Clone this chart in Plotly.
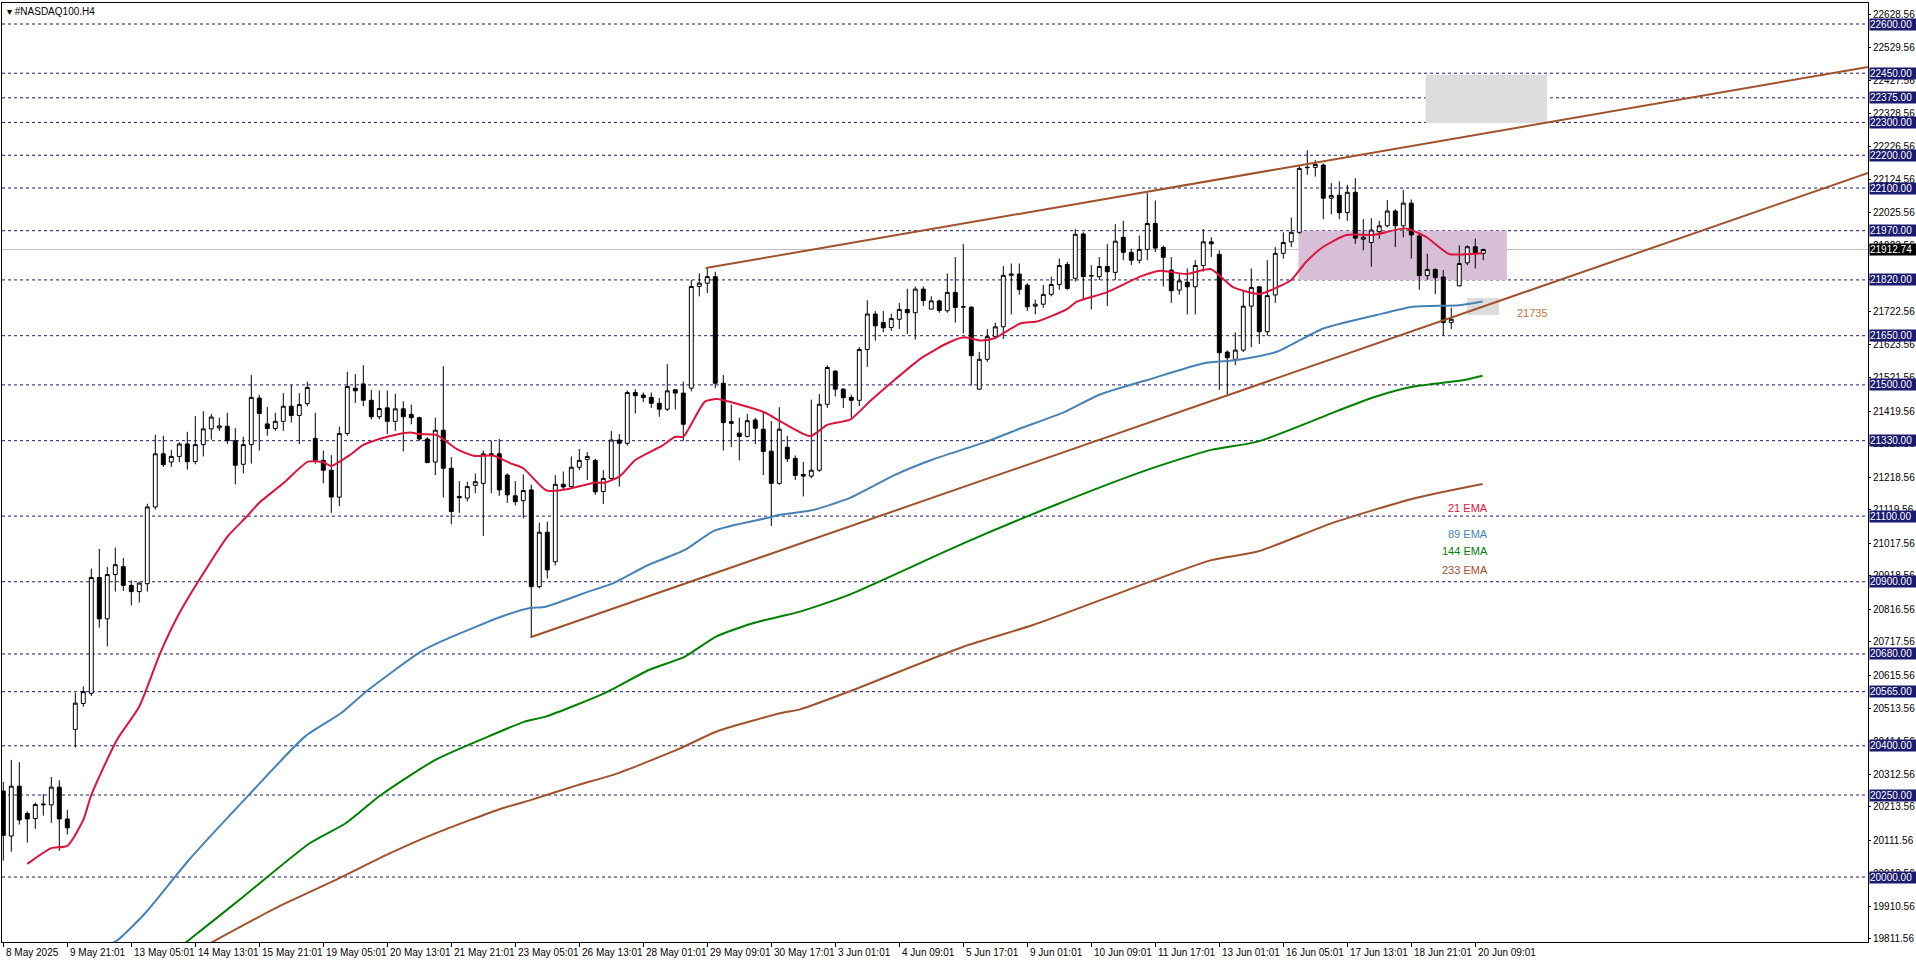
import plotly.graph_objects as go

# ---- candle data (H4 bars, index 0 = 8 May 2025) ----
opens = [20262,20125,20277,20194,20178,20220,20220,20274,20177,20450,20529,20560,20913,20787,20922,20946,20889,20870,20894,21128,
21290,21265,21282,21320,21266,21318,21366,21369,21374,21330,21258,21318,21460,21381,21367,21389,21435,21407,21443,21337,
21270,21240,21158,21352,21490,21503,21453,21403,21430,21389,21427,21410,21400,21335,21265,21362,21246,21160,21155,21194,
21200,21290,21290,21225,21162,21147,21180,20885,21051,20961,21197,21190,21249,21273,21270,21175,21215,21332,21322,21477,
21469,21462,21444,21426,21485,21475,21490,21800,21810,21830,21505,21388,21353,21343,21393,21365,21298,21200,21310,21276,
21227,21222,21240,21441,21542,21487,21462,21453,21608,21716,21690,21675,21700,21730,21720,21792,21731,21756,21726,21782,
21737,21737,21487,21578,21648,21677,21834,21838,21804,21740,21746,21776,21806,21867,21825,21960,21832,21830,21861,21843,
21950,21904,21880,21913,21992,21919,21850,21789,21813,21799,21864,21936,21898,21600,21578,21606,21740,21799,21662,21774,
21901,21936,21965,22162,22163,22170,22069,22078,22025,22087,21944,21934,21967,21985,22030,21985,22054,21954,21833,21852,
21829,21690,21802,21872,21921,21901]
highs = [20290,20357,20350,20200,20227,20253,20305,20295,20205,20562,20581,20940,21000,20945,21004,20973,20904,20900,21138,21348,
21345,21302,21325,21357,21405,21420,21412,21400,21415,21368,21342,21530,21470,21433,21415,21475,21500,21475,21510,21415,
21300,21286,21373,21540,21533,21560,21485,21483,21483,21473,21450,21440,21403,21340,21400,21557,21280,21207,21205,21230,
21300,21330,21335,21230,21207,21227,21196,21080,21083,21225,21236,21282,21305,21295,21275,21240,21360,21350,21483,21487,
21477,21477,21460,21563,21487,21510,21820,21840,21856,21845,21530,21440,21400,21412,21400,21420,21390,21432,21345,21285,
21265,21455,21472,21560,21545,21490,21470,21615,21758,21725,21725,21717,21750,21793,21800,21800,21770,21760,21840,21890,
21929,21740,21600,21670,21690,21862,21870,21870,21810,21760,21805,21830,21885,21875,21975,21965,21865,21890,21930,21990,
22000,21915,21955,22085,22062,21925,21890,21840,21855,21880,21975,21950,21910,21605,21660,21785,21855,21800,21880,21920,
21965,22010,22170,22215,22185,22175,22115,22120,22110,22130,22005,22008,22000,22063,22035,22095,22065,21960,21900,21855,
21850,21735,21925,21925,21946,21915]
lows = [20050,20077,20160,20105,20147,20187,20165,20080,20130,20395,20519,20552,20760,20703,20870,20872,20828,20837,20870,21120,
21250,21250,21265,21242,21258,21282,21333,21360,21320,21197,21230,21260,21300,21345,21360,21360,21385,21320,21435,21260,
21200,21110,21130,21345,21445,21435,21395,21395,21350,21360,21297,21380,21330,21262,21225,21157,21075,21110,21145,21170,
21040,21170,21162,21140,21133,21093,20731,20880,20910,20950,21180,21185,21240,21210,21165,21137,21210,21190,21315,21413,
21447,21430,21403,21420,21425,21330,21480,21770,21780,21490,21300,21310,21270,21340,21320,21225,21070,21195,21265,21210,
21160,21215,21235,21430,21465,21430,21400,21435,21555,21635,21660,21665,21670,21655,21638,21740,21730,21720,21720,21690,
21657,21498,21485,21570,21640,21640,21715,21775,21725,21715,21735,21770,21790,21790,21815,21760,21730,21820,21740,21820,
21880,21865,21870,21880,21905,21800,21750,21775,21715,21715,21845,21890,21485,21470,21560,21600,21615,21625,21650,21750,
21885,21920,21960,22140,22135,22005,22020,22005,22000,21930,21910,21860,21945,21980,21920,21950,21885,21790,21820,21777,
21650,21670,21800,21865,21855,21880]
closes = [20127,20277,20174,20177,20221,20222,20274,20177,20150,20530,20565,20913,20787,20922,20952,20889,20870,20896,21128,21290,
21257,21282,21320,21266,21318,21366,21402,21375,21330,21255,21318,21462,21413,21367,21389,21435,21407,21440,21492,21270,
21240,21158,21352,21495,21482,21453,21403,21428,21389,21427,21403,21400,21335,21263,21362,21246,21114,21156,21190,21205,
21290,21287,21180,21165,21144,21178,20885,21051,20936,21197,21189,21249,21270,21282,21174,21215,21332,21322,21477,21467,
21461,21444,21426,21482,21475,21380,21800,21810,21830,21505,21385,21383,21343,21391,21368,21297,21200,21365,21275,21224,
21222,21240,21441,21553,21487,21461,21453,21608,21716,21680,21674,21702,21730,21720,21792,21757,21756,21727,21782,21736,
21738,21589,21578,21647,21677,21834,21838,21791,21738,21746,21776,21806,21864,21794,21959,21830,21833,21861,21845,21938,
21904,21880,21913,21992,21917,21889,21787,21817,21799,21864,21936,21930,21598,21583,21606,21740,21797,21662,21772,21901,
21934,21965,22160,22163,22172,22069,22077,22025,22087,21947,21950,21972,21985,22030,21985,22054,21957,21833,21852,21827,
21690,21700,21870,21921,21903,21912.74]

# ---- EMA readings (bar index, price) ----
ema21_x = [3,3.8,6,8,10,11,14.2,17,19.6,22,24.6,28,30.4,32,35,38.1,40,41,43.3,45,47.1,49.2,50.8,52.1,54.2,56.7,58.8,61.3,63.4,
           65,67.9,70.4,73.9,75.2,77.1,79,82.3,84,85,87.7,89.2,91.9,95.2,97.2,100.9,103,105.9,108.5,111.4,114.7,118,120.1,122.2,
           123.9,127.2,129.2,132.9,134.2,137.9,142.1,144.6,147.9,150.9,153.8,157.1,159.2,161,162.9,165,167.9,171.2,175.3,177.8,
           180.7,182.8,184.9]
ema21_y = [20040,20054,20088,20095,20174,20250,20418,20520,20682,20804,20910,21037,21098,21141,21200,21266,21264,21253,21286,
           21317,21336,21349,21355,21350,21347,21304,21284,21284,21261,21246,21178,21182,21202,21202,21222,21271,21314,21342,
           21342,21449,21457,21441,21416,21388,21344,21378,21395,21454,21515,21581,21627,21645,21635,21642,21688,21693,21730,
           21754,21782,21830,21848,21838,21853,21797,21777,21797,21820,21876,21921,21957,21957,21977,21952,21899,21898,21901]
ema89_x = [13,14.3,17.7,23.2,30.5,37.7,42.2,45.6,52.2,55.1,62.3,65.7,67.8,73.5,76.2,80.6,85.2,88.9,95.2,97.1,100.9,105.7,
           111.4,116,122.9,127.2,132.7,137,143,150.1,154.2,159.2,165,172.5,176.2,182,184.9]
ema89_y = [19790,19808,19889,20052,20245,20428,20499,20570,20687,20722,20794,20819,20824,20873,20895,20951,20997,21056,21093,
           21104,21117,21154,21225,21271,21327,21368,21418,21470,21515,21566,21576,21601,21672,21718,21738,21743,21754]
ema144_x = [22.5,23.2,30,38.3,42.8,47.2,54,60.6,65.1,67.8,75.1,80.7,85.2,89.1,93.6,97.1,99.6,105.7,120,131.5,143,151,156.8,
            166,167.2,171.5,176.3,182.6,184.9]
ema144_y = [19795,19808,19940,20103,20164,20250,20357,20428,20473,20489,20560,20631,20672,20733,20773,20794,20809,20860,21017,
            21134,21241,21302,21327,21413,21425,21464,21495,21515,21528]
ema233_x = [26,26.6,34.4,41.1,48.3,54,62.3,65.7,71.8,76.8,84.6,89.1,97.1,99.6,105.7,120,128.7,140,151,156.8,166,176.3,184.9]
ema233_y = [19800,19808,19910,19986,20072,20133,20209,20233,20280,20316,20392,20443,20499,20511,20565,20702,20768,20870,
            20966,20992,21078,21154,21198]

# ---- trend channel (bar index, price) ----
upper_x = [87.8, 233.1]
upper_y = [21856, 22469]
lower_x = [65.9, 233.1]
lower_y = [20731, 22146]

level_prices = [22600,22450,22375,22300,22200,22100,21970,21820,21650,21500,21330,21100,20900,20680,20565,20400,20250,20000]
last_price = 21912.74
axis_ticks = [22628.56,22529.56,22427.56,22328.56,22226.56,22124.56,22025.56,21923.56,21822.56,21722.56,21623.56,21521.56,
              21419.56,21320.56,21218.56,21119.56,21017.56,20918.56,20816.56,20717.56,20615.56,20513.56,20414.56,20312.56,
              20213.56,20111.56,20010.56,19910.56,19811.56]
time_labels = ["8 May 2025","9 May 21:01","13 May 05:01","14 May 13:01","15 May 21:01","19 May 05:01","20 May 13:01",
               "21 May 21:01","23 May 05:01","26 May 13:01","28 May 01:01","29 May 09:01","30 May 17:01","3 Jun 01:01",
               "4 Jun 09:01","5 Jun 17:01","9 Jun 01:01","10 Jun 09:01","11 Jun 17:01","13 Jun 01:01","16 Jun 05:01",
               "17 Jun 13:01","18 Jun 21:01","20 Jun 09:01"]
label_step = 8

FONT = "Liberation Sans"
NAVY = "#1a1a6e"
SIENNA = "#A0522D"

fig = go.Figure()
xs = list(range(len(opens)))
fig.add_trace(go.Candlestick(x=xs, open=opens, high=highs, low=lows, close=closes,
    increasing=dict(line=dict(color="black", width=1), fillcolor="white"),
    decreasing=dict(line=dict(color="black", width=1), fillcolor="black"),
    whiskerwidth=0, showlegend=False, hoverinfo="skip"))

for ex, ey, col in [(ema233_x, ema233_y, SIENNA), (ema144_x, ema144_y, "#008000"),
                    (ema89_x, ema89_y, "#4682B4"), (ema21_x, ema21_y, "#DC143C")]:
    fig.add_trace(go.Scatter(x=ex, y=ey, mode="lines", line=dict(color=col, width=2, shape="spline", smoothing=0.6),
                             showlegend=False, hoverinfo="skip"))

fig.add_trace(go.Scatter(x=upper_x, y=upper_y, mode="lines", line=dict(color=SIENNA, width=2), showlegend=False))
fig.add_trace(go.Scatter(x=lower_x, y=lower_y, mode="lines", line=dict(color=SIENNA, width=2), showlegend=False))

shapes = []
shapes.append(dict(type="rect", xref="x", yref="y", x0=177.8, x1=192.96, y0=22298, y1=22445,
                   fillcolor="#DCDCDC", line=dict(width=0), layer="below"))
shapes.append(dict(type="rect", xref="x", yref="y", x0=161.9, x1=187.96, y0=21820, y1=21970,
                   fillcolor="#D8BFD8", line=dict(width=0), layer="below"))
shapes.append(dict(type="rect", xref="x", yref="y", x0=182.96, x1=186.96, y0=21713, y1=21765,
                   fillcolor="#DCDCDC", line=dict(width=0), layer="below"))
for p in level_prices:
    shapes.append(dict(type="line", xref="paper", yref="y", x0=0, x1=1, y0=p, y1=p,
                       line=dict(color=NAVY, width=1, dash="3px,3px"), layer="below"))
shapes.append(dict(type="line", xref="paper", yref="y", x0=0, x1=1, y0=last_price, y1=last_price,
                   line=dict(color="#C0C0C0", width=1), layer="below"))

ann = []
for p in level_prices:
    ann.append(dict(xref="paper", yref="y", x=1, y=p, xanchor="left", yanchor="middle", xshift=1,
                    text=f"{p:.2f}", showarrow=False, bgcolor=NAVY, font=dict(color="white", size=10, family=FONT),
                    borderpad=0, width=46, align="left"))
ann.append(dict(xref="paper", yref="y", x=1, y=last_price, xanchor="left", yanchor="middle", xshift=1,
                text=f"{last_price:.2f}", showarrow=False, bgcolor="black", font=dict(color="white", size=10, family=FONT),
                borderpad=0, width=46, align="left"))
for i, t in enumerate(time_labels):
    ann.append(dict(xref="x", yref="paper", x=i * label_step, y=0, xanchor="left", yanchor="top", yshift=-3, xshift=1,
                    text=t, showarrow=False, font=dict(color="black", size=10, family=FONT)))
for txt, yv, col in [("21 EMA", 21126, "#DC143C"), ("89 EMA", 21046, "#4682B4"),
                     ("144 EMA", 20994, "#008000"), ("233 EMA", 20936, SIENNA)]:
    ann.append(dict(xref="x", yref="y", x=185.8, y=yv, xanchor="right", yanchor="middle", text=txt,
                    showarrow=False, font=dict(color=col, size=11, family=FONT)))
ann.append(dict(xref="x", yref="y", x=191.1, y=21719, xanchor="center", yanchor="middle", text="21735",
                showarrow=False, font=dict(color="#C8703A", size=11, family=FONT)))
ann.append(dict(xref="paper", yref="paper", x=0, y=1, xanchor="left", yanchor="top", xshift=3, yshift=-1,
                text="▾ #NASDAQ100.H4", showarrow=False, font=dict(color="black", size=10, family=FONT)))

fig.update_layout(
    width=1916, height=963, margin=dict(l=2, r=48, t=3, b=21, autoexpand=False),
    paper_bgcolor="white", plot_bgcolor="white",
    shapes=shapes, annotations=ann, hovermode=False,
    xaxis=dict(range=[-0.1625, 233.09], rangeslider=dict(visible=False), showgrid=False, zeroline=False,
               tickvals=[i * label_step for i in range(len(time_labels))], ticktext=[""] * len(time_labels),
               ticks="outside", ticklen=4, tickcolor="black", showline=True, linecolor="black", mirror=True),
    yaxis=dict(range=[19802, 22664], side="right", showgrid=False, zeroline=False,
               tickvals=axis_ticks, ticktext=[f"{v:.2f}" for v in axis_ticks], ticks="outside", ticklen=2,
               tickcolor="black", tickfont=dict(size=10, family=FONT, color="black"),
               showline=True, linecolor="black", mirror=True),
)
fig.write_html("out.html", config={"displayModeBar": False},
               post_script="document.body.style.margin='0';document.body.style.overflow='hidden';")
